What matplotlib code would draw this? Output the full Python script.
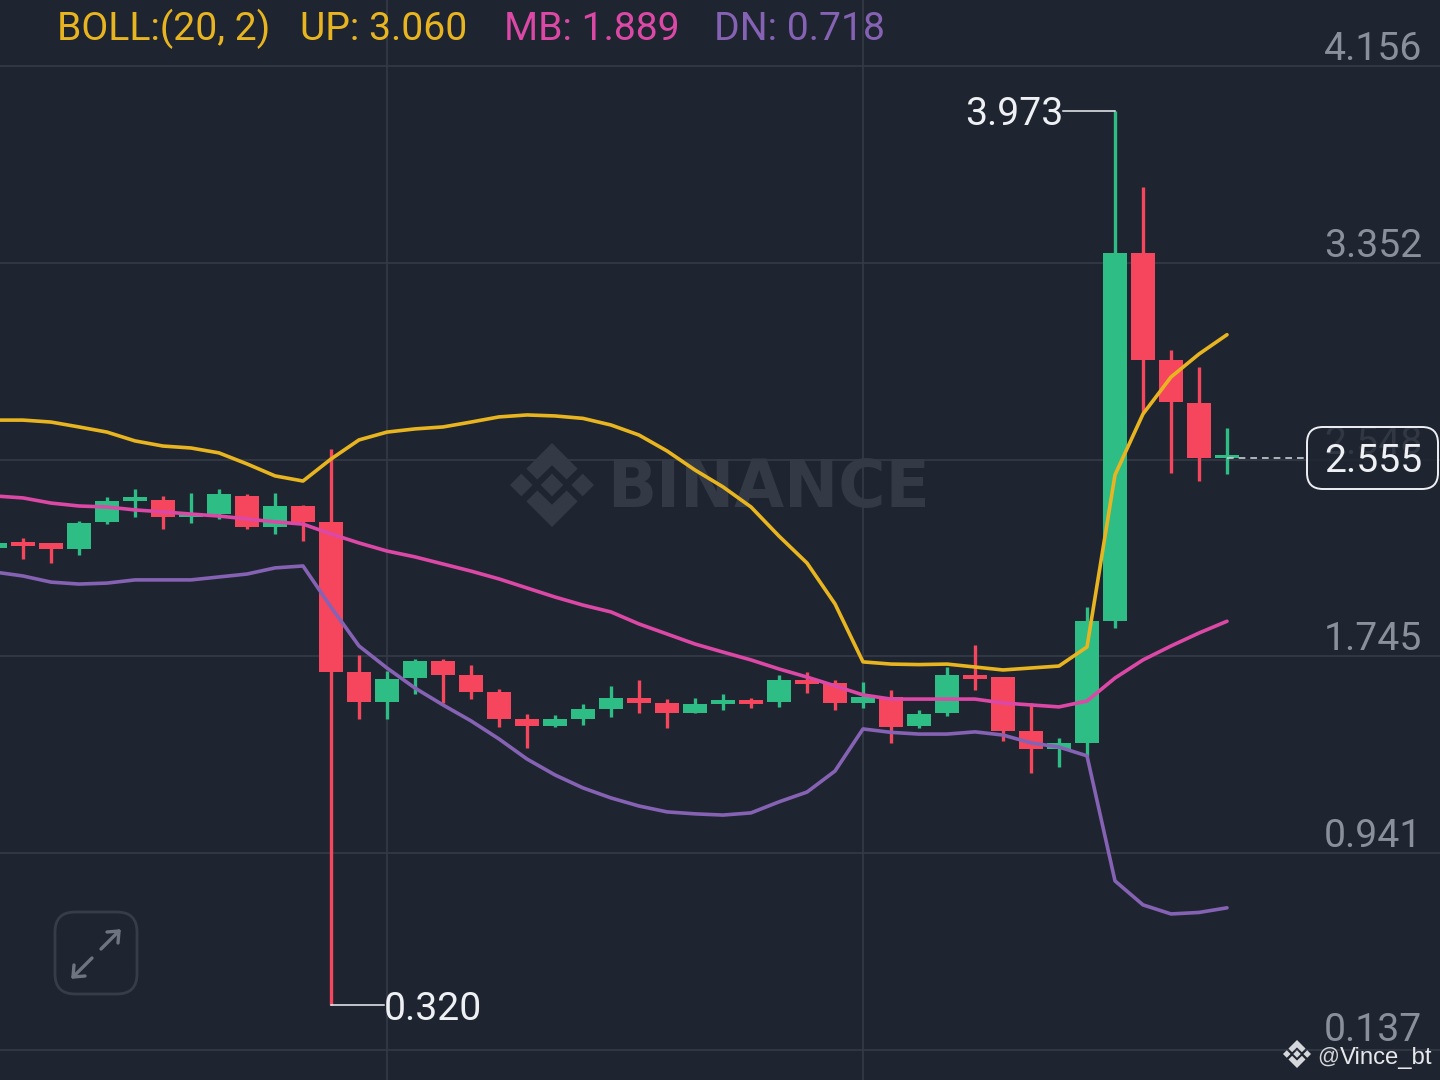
import matplotlib
matplotlib.use('Agg')
import matplotlib.pyplot as plt
from matplotlib.patches import FancyBboxPatch, Polygon

# candles, oldest first (the first one is mostly cut off by the left edge)
opens = [2.190, 2.214, 2.210, 2.186, 2.296, 2.382, 2.386, 2.313, 2.329, 2.402, 2.276, 2.362, 2.296,
         1.683, 1.560, 1.658, 1.728, 1.671, 1.601, 1.491, 1.462, 1.491, 1.532, 1.577, 1.556, 1.515,
         1.552, 1.568, 1.560, 1.650, 1.638, 1.556, 1.581, 1.462, 1.515, 1.671, 1.662, 1.442, 1.365,
         1.393, 1.891, 3.393, 2.957, 2.781, 2.556]
closes = [2.210, 2.198, 2.186, 2.292, 2.382, 2.396, 2.313, 2.329, 2.407, 2.276, 2.362, 2.296, 1.683,
          1.560, 1.654, 1.728, 1.671, 1.601, 1.491, 1.462, 1.491, 1.532, 1.577, 1.556, 1.515, 1.552,
          1.568, 1.552, 1.650, 1.634, 1.556, 1.581, 1.458, 1.511, 1.671, 1.654, 1.442, 1.365, 1.393,
          1.891, 3.393, 2.957, 2.785, 2.556, 2.568]
highs = [2.214, 2.231, 2.210, 2.300, 2.398, 2.431, 2.402, 2.415, 2.431, 2.411, 2.415, 2.366, 2.594,
         1.752, 1.687, 1.736, 1.736, 1.711, 1.613, 1.511, 1.507, 1.552, 1.626, 1.650, 1.573, 1.577,
         1.593, 1.577, 1.671, 1.683, 1.650, 1.642, 1.609, 1.528, 1.703, 1.793, 1.662, 1.556, 1.413,
         1.948, 3.973, 3.663, 2.997, 2.928, 2.679]
lows = [2.186, 2.145, 2.129, 2.161, 2.288, 2.313, 2.268, 2.292, 2.308, 2.268, 2.247, 2.219, 0.320,
        1.491, 1.491, 1.593, 1.556, 1.573, 1.458, 1.373, 1.458, 1.466, 1.499, 1.515, 1.454, 1.515,
        1.528, 1.536, 1.540, 1.597, 1.528, 1.536, 1.393, 1.454, 1.503, 1.609, 1.401, 1.267, 1.295,
        1.340, 1.863, 2.740, 2.495, 2.462, 2.491]

# bollinger bands
boll_up = [2.711, 2.711, 2.703, 2.683, 2.662, 2.626, 2.605, 2.597, 2.577, 2.532, 2.483, 2.462, 2.552,
           2.630, 2.662, 2.675, 2.683, 2.703, 2.724, 2.732, 2.728, 2.718, 2.691, 2.650, 2.585, 2.507,
           2.438, 2.356, 2.237, 2.127, 1.960, 1.723, 1.714, 1.712, 1.714, 1.702, 1.690, 1.698, 1.706,
           1.784, 2.487, 2.736, 2.887, 2.981, 3.060]
boll_mb = [2.401, 2.393, 2.372, 2.360, 2.356, 2.344, 2.336, 2.327, 2.319, 2.307, 2.295, 2.286, 2.246,
           2.209, 2.176, 2.152, 2.123, 2.094, 2.062, 2.025, 1.988, 1.955, 1.927, 1.878, 1.837, 1.796,
           1.763, 1.731, 1.694, 1.661, 1.625, 1.588, 1.571, 1.571, 1.571, 1.571, 1.555, 1.547, 1.539,
           1.563, 1.657, 1.731, 1.788, 1.841, 1.889]
boll_dn = [2.090, 2.074, 2.049, 2.041, 2.045, 2.058, 2.058, 2.058, 2.070, 2.082, 2.107, 2.115, 1.947,
           1.788, 1.698, 1.616, 1.547, 1.482, 1.408, 1.326, 1.261, 1.208, 1.167, 1.134, 1.110, 1.102,
           1.097, 1.106, 1.151, 1.191, 1.277, 1.449, 1.435, 1.428, 1.428, 1.437, 1.424, 1.392, 1.375,
           1.339, 0.828, 0.730, 0.693, 0.699, 0.718]

price_ticks = [4.156, 3.352, 2.548, 1.745, 0.941, 0.137]
time_grid = [14, 31]
last_price = 2.555
top_price = 3.973
bottom_price = 0.320
top_idx = 40
bottom_idx = 12

BG = '#1f2530'
GRID = '#343a46'
GREEN = '#2ebd85'
RED = '#f6465d'
YELLOW = '#e8b521'
MAGENTA = '#dc48a6'
PURPLE = '#8562b4'
TICK = '#8a909b'
WHITE = '#eef0f3'
FONT = 'Roboto'
SIZE = 28.2


def binance_logo(axis, cx, cy, r, color, zorder=1):
    # pixel axis, y runs downward
    shapes = [
        [(0, -0.27), (0.27, 0), (0, 0.27), (-0.27, 0)],
        [(0.73, -0.27), (1, 0), (0.73, 0.27), (0.46, 0)],
        [(-0.73, -0.27), (-0.46, 0), (-0.73, 0.27), (-1, 0)],
        [(0, -1), (0.61, -0.39), (0.35, -0.13), (0, -0.47), (-0.35, -0.13), (-0.61, -0.39)],
        [(0, 1), (0.61, 0.39), (0.35, 0.13), (0, 0.47), (-0.35, 0.13), (-0.61, 0.39)],
    ]
    for s in shapes:
        axis.add_patch(Polygon([(cx + a * r, cy + b * r) for a, b in s], closed=True,
                               facecolor=color, edgecolor='none', zorder=zorder))


fig = plt.figure(figsize=(14.4, 10.8), dpi=100, facecolor=BG)

# pixel layer under the chart for the watermark
under = fig.add_axes([0, 0, 1, 1], zorder=0)
under.set_xlim(0, 1440)
under.set_ylim(1080, 0)
under.axis('off')
binance_logo(under, 552, 485, 42, '#333a45')
under.text(607, 507, 'BINANCE', color='#333a45', fontsize=46.5, fontweight='bold', family='DejaVu Sans',
           ha='left', va='baseline')

ax = fig.add_axes([0, 0, 1, 1], zorder=1)
ax.patch.set_alpha(0)
ax.set_xlim(5 / 28, 1445 / 28)
ax.set_ylim(0.0144, 4.4277)
for s in ax.spines.values():
    s.set_visible(False)
ax.set_xticks(time_grid)
ax.set_yticks(price_ticks)
ax.tick_params(length=0, labelbottom=False, labelleft=False)
ax.grid(True, color=GRID, linewidth=1.2, zorder=1)
ax.set_axisbelow(True)

idx = list(range(len(opens)))
colors = [GREEN if c >= o else RED for o, c in zip(opens, closes)]
bottoms = [min(o, c) for o, c in zip(opens, closes)]
heights = [abs(c - o) for o, c in zip(opens, closes)]
ax.vlines(idx, lows, highs, colors=colors, linewidth=2.4, zorder=2)
ax.bar(idx, heights, bottom=bottoms, width=0.86, color=colors, linewidth=0, zorder=3)

ax.plot(idx, boll_up, color=YELLOW, linewidth=2.6, zorder=4, solid_capstyle='round')
ax.plot(idx, boll_mb, color=MAGENTA, linewidth=2.6, zorder=4, solid_capstyle='round')
ax.plot(idx, boll_dn, color=PURPLE, linewidth=2.6, zorder=4, solid_capstyle='round')

# high / low callouts
ax.plot([top_idx - 52 / 28, top_idx], [top_price, top_price], color=WHITE, linewidth=1.1, zorder=5)
ax.plot([bottom_idx, bottom_idx + 53 / 28], [bottom_price, bottom_price], color=WHITE, linewidth=1.1, zorder=5)
ax.annotate(f'{top_price:.3f}', xy=(top_idx, top_price), xytext=(-52, 1), textcoords='offset pixels',
            ha='right', va='center_baseline', color=WHITE, fontsize=SIZE, family=FONT, zorder=6)
ax.annotate(f'{bottom_price:.3f}', xy=(bottom_idx, bottom_price), xytext=(53, 0), textcoords='offset pixels',
            ha='left', va='center_baseline', color=WHITE, fontsize=SIZE, family=FONT, zorder=6)

# price labels sit just over their gridlines, the lowest one a bit higher
for p in price_ticks:
    ax.annotate(f'{p:.3f}', xy=(1, p), xycoords=ax.get_yaxis_transform(),
                xytext=(-18, 9 if p == price_ticks[-1] else 6), textcoords='offset pixels',
                ha='right', va='baseline', color=TICK, fontsize=SIZE, family=FONT, zorder=6)

# last price line
ax.plot([idx[-1], 1305 / 28 + 5 / 28], [last_price, last_price], color='#c9ccd2', linewidth=1.2,
        dashes=(4, 3), zorder=5)

# pixel layer on top for the header, price box and buttons
top = fig.add_axes([0, 0, 1, 1], zorder=2)
top.patch.set_alpha(0)
top.set_xlim(0, 1440)
top.set_ylim(1080, 0)
top.axis('off')

header = [('BOLL:(20, 2)', 57, YELLOW), (f'UP: {boll_up[-1]:.3f}', 300, YELLOW),
          (f'MB: {boll_mb[-1]:.3f}', 504, MAGENTA), (f'DN: {boll_dn[-1]:.3f}', 714, PURPLE)]
for label, x, color in header:
    top.text(x, 40, label, color=color, fontsize=SIZE, family=FONT, ha='left', va='baseline')

top.add_patch(FancyBboxPatch((1319, 439), 107, 38, boxstyle='round,pad=12,rounding_size=16',
                             facecolor=BG, edgecolor='none', alpha=0.82, zorder=3))
top.add_patch(FancyBboxPatch((1319, 439), 107, 38, boxstyle='round,pad=12,rounding_size=16',
                             facecolor='none', edgecolor=WHITE, linewidth=1.4, zorder=4))
top.text(1422, 472, f'{last_price:.3f}', color=WHITE, fontsize=SIZE, family=FONT, ha='right',
         va='baseline', zorder=5)

# expand button
top.add_patch(FancyBboxPatch((69, 926), 54, 54, boxstyle='round,pad=14,rounding_size=20',
                             facecolor='none', edgecolor='#363c48', linewidth=2.0))
for xs, ys in [([101, 119], [949, 931]), ([107, 119, 118], [932, 931, 943]),
               ([92, 73], [958, 977]), ([74, 73, 85], [965, 977, 976])]:
    top.plot(xs, ys, color='#6f7580', linewidth=2.4, solid_capstyle='round', solid_joinstyle='round')

binance_logo(top, 1297, 1054, 14, '#d5d7da', zorder=5)
top.text(1317, 1063, '@', color='#d5d7da', fontsize=15.5, family='Liberation Sans', ha='left', va='baseline')
top.text(1340, 1064, 'Vince_bt', color='#e6e8eb', fontsize=17.2, family='Liberation Sans', ha='left', va='baseline')

fig.savefig('out.png', dpi=100, facecolor=BG)
